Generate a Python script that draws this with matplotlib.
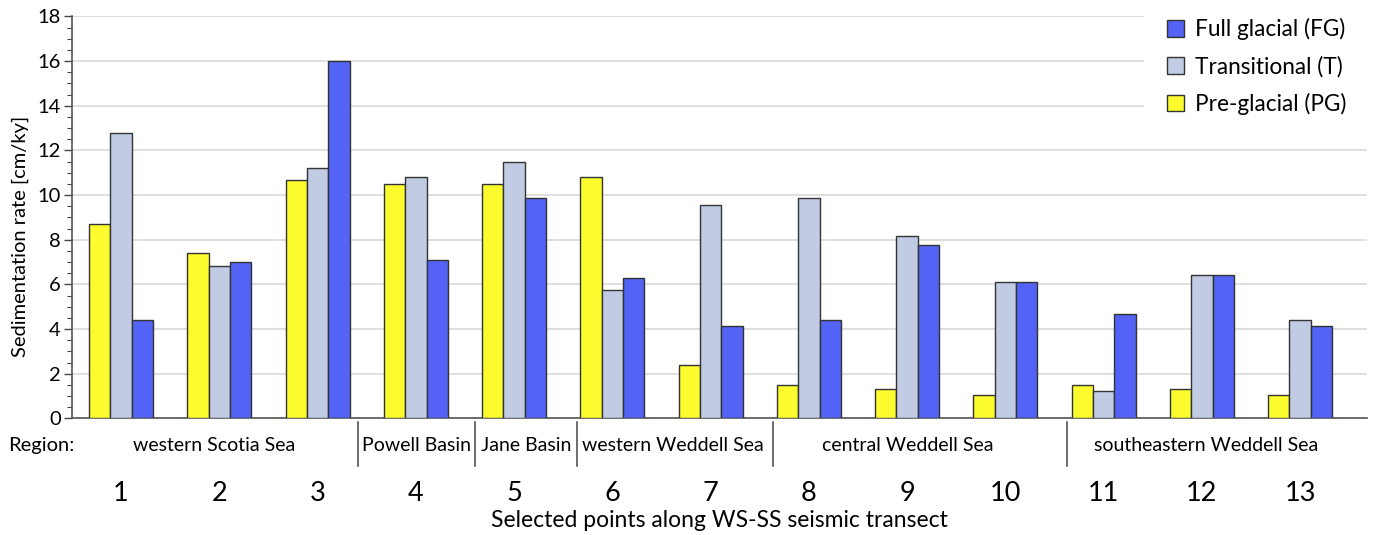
import matplotlib
matplotlib.use("Agg")
import matplotlib.pyplot as plt
import matplotlib.transforms as mtransforms
from matplotlib.ticker import MultipleLocator
import numpy as np

plt.rcParams['font.family'] = ['Lato', 'DejaVu Sans']

# sedimentation rates [cm/ky] at the 13 transect points
points = np.arange(1, 14)
pre_glacial = [8.7, 7.4, 10.67, 10.52, 10.52, 10.82, 2.39, 1.48, 1.34, 1.07, 1.48, 1.34, 1.07]
transitional = [12.8, 6.84, 11.22, 10.82, 11.49, 5.75, 9.58, 9.87, 8.16, 6.13, 1.21, 6.43, 4.40]
full_glacial = [4.42, 6.99, 16.0, 7.10, 9.87, 6.30, 4.13, 4.40, 7.76, 6.13, 4.67, 6.43, 4.13]

# regions along the transect: label, label position, boundary on the right
regions = ['western Scotia Sea', 'Powell Basin', 'Jane Basin',
           'western Weddell Sea', 'central Weddell Sea', 'southeastern Weddell Sea']
region_centres = [1.95, 4.01, 5.12, 6.62, 9.01, 12.04]
region_bounds = [3.41, 4.60, 5.64, 7.63, 10.63]

c_pg = '#fbfb2e'
c_t = '#c1cce4'
c_fg = '#5263f6'
edge = '#333333'

fig = plt.figure(figsize=(13.73, 5.35), dpi=100)
ax = fig.add_axes([0.0524, 0.2178, 0.9432, 0.7514])

w = 0.217
ax.bar(points - w, pre_glacial, w, color=c_pg, edgecolor=edge, linewidth=1, zorder=3, label='Pre-glacial (PG)')
ax.bar(points, transitional, w, color=c_t, edgecolor=edge, linewidth=1, zorder=3, label='Transitional (T)')
ax.bar(points + w, full_glacial, w, color=c_fg, edgecolor=edge, linewidth=1, zorder=3, label='Full glacial (FG)')

ax.set_xlim(0.5, 13.68)
ax.set_ylim(0, 18)
ax.yaxis.set_major_locator(MultipleLocator(2))
ax.yaxis.set_minor_locator(MultipleLocator(0.5))
ax.grid(axis='y', color='#dcdcdc', linewidth=1.3, zorder=0)
ax.tick_params(axis='y', which='major', length=6, width=1, color='#444444', labelsize=14.5, pad=2)
ax.tick_params(axis='y', which='minor', length=3.5, width=0.8, color='#444444')
for s in ['top', 'right']:
    ax.spines[s].set_visible(False)
for s in ['left', 'bottom']:
    ax.spines[s].set_color('#555555')
    ax.spines[s].set_linewidth(1.2)

ax.set_xticks(points)
ax.set_xticklabels([str(p) for p in points], fontsize=19.5)
ax.tick_params(axis='x', length=0, pad=45)

fig.text(20 / 1373, 1 - 236 / 535, 'Sedimentation rate [cm/ky]', rotation=90,
         ha='center', va='center', fontsize=14.5)
ax.set_xlabel('Selected points along WS-SS seismic transect', fontsize=16.5, labelpad=3)

# region row under the axis
trans = mtransforms.blended_transform_factory(ax.transData, ax.transAxes)
for name, xc in zip(regions, region_centres):
    ax.text(xc, -0.068, name, transform=trans, ha='center', va='center', fontsize=14)
for xb in region_bounds:
    ax.plot([xb, xb], [-0.009, -0.118], transform=trans, color='#444444',
            linewidth=1.1, clip_on=False)
fig.text(8 / 1373, 1 - 446 / 535, 'Region:', ha='left', va='center', fontsize=14.5)

handles, labels = ax.get_legend_handles_labels()
leg = ax.legend(handles[::-1], labels[::-1], loc='upper left', bbox_to_anchor=(0.828, 1.052),
                frameon=True, fontsize=16.3, handlelength=0.75, handleheight=0.75,
                handletextpad=0.5, labelspacing=0.68, borderpad=1.0, borderaxespad=0)
leg.get_frame().set_edgecolor('none')
leg.get_frame().set_facecolor('white')
leg.get_frame().set_alpha(1)
leg.set_zorder(5)

fig.savefig('out.png', dpi=100)
